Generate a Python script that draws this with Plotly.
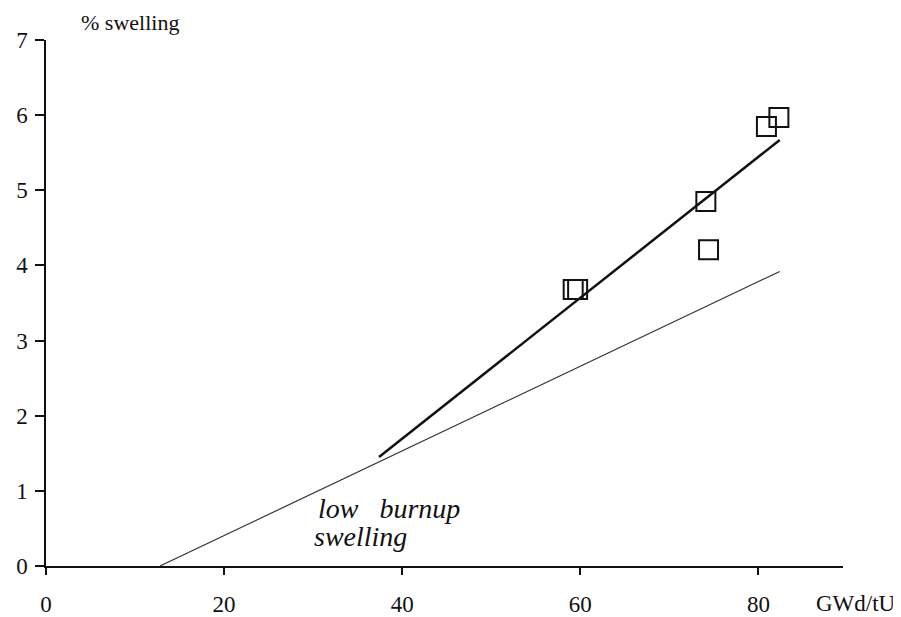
import plotly.graph_objects as go

# Data
burnup_pts = [59.2, 59.7, 74.1, 74.4, 80.9, 82.3]
swelling_pts = [3.68, 3.68, 4.85, 4.21, 5.85, 5.97]

low_line_x = [12.8, 82.4]
low_line_y = [0.0, 3.92]

high_line_x = [37.4, 82.4]
high_line_y = [1.45, 5.67]

x_ticks = [0, 20, 40, 60, 80]
y_ticks = [0, 1, 2, 3, 4, 5, 6, 7]

FONT = "Liberation Serif"

fig = go.Figure()
fig.add_trace(go.Scatter(x=low_line_x, y=low_line_y, mode="lines",
                         line=dict(color="#333333", width=1.2), showlegend=False))
fig.add_trace(go.Scatter(x=high_line_x, y=high_line_y, mode="lines",
                         line=dict(color="#111111", width=2.5), showlegend=False))
fig.add_trace(go.Scatter(x=burnup_pts, y=swelling_pts, mode="markers",
                         marker=dict(symbol="square-open", size=19, color="#111111",
                                     line=dict(width=2, color="#111111")),
                         showlegend=False))

# the page body adds an 8px offset, so the figure is 8px smaller and margins shifted
fig.update_layout(
    width=893, height=609,
    margin=dict(l=38, r=58, t=32, b=51),
    paper_bgcolor="white", plot_bgcolor="white",
    font=dict(family=FONT, size=23, color="#111111"),
    xaxis=dict(range=[0, 89.5], tickvals=x_ticks, showgrid=False, zeroline=False,
               showline=True, linecolor="#111111", linewidth=1.5, automargin=False,
               ticks="outside", ticklen=7, tickwidth=1.5, tickcolor="#111111",
               ticklabelstandoff=10, tickfont=dict(size=23, family=FONT)),
    yaxis=dict(range=[0, 7], tickvals=y_ticks, showgrid=False, zeroline=False,
               showline=True, linecolor="#111111", linewidth=1.5, automargin=False,
               ticks="outside", ticklen=9, tickwidth=1.5, tickcolor="#111111",
               ticklabelstandoff=3, tickfont=dict(size=23, family=FONT)),
    annotations=[
        dict(text="% swelling", xref="paper", yref="paper", x=(79-46)/797, y=1,
             yshift=18, xanchor="left", yanchor="middle", showarrow=False,
             font=dict(size=22, family=FONT)),
        dict(text="GWd/tU", xref="paper", yref="paper", x=1, xshift=-29, y=0, yshift=-37,
             xanchor="left", yanchor="middle", showarrow=False,
             font=dict(size=23, family=FONT)),
        dict(text="<i>low   burnup</i>", x=30.3, y=0.77, xanchor="left", yanchor="middle",
             showarrow=False, font=dict(size=28, family=FONT)),
        dict(text="<i>swelling</i>", x=29.9, y=0.39, xanchor="left", yanchor="middle",
             showarrow=False, font=dict(size=28, family=FONT)),
    ],
)

fig.write_html("out.html")
